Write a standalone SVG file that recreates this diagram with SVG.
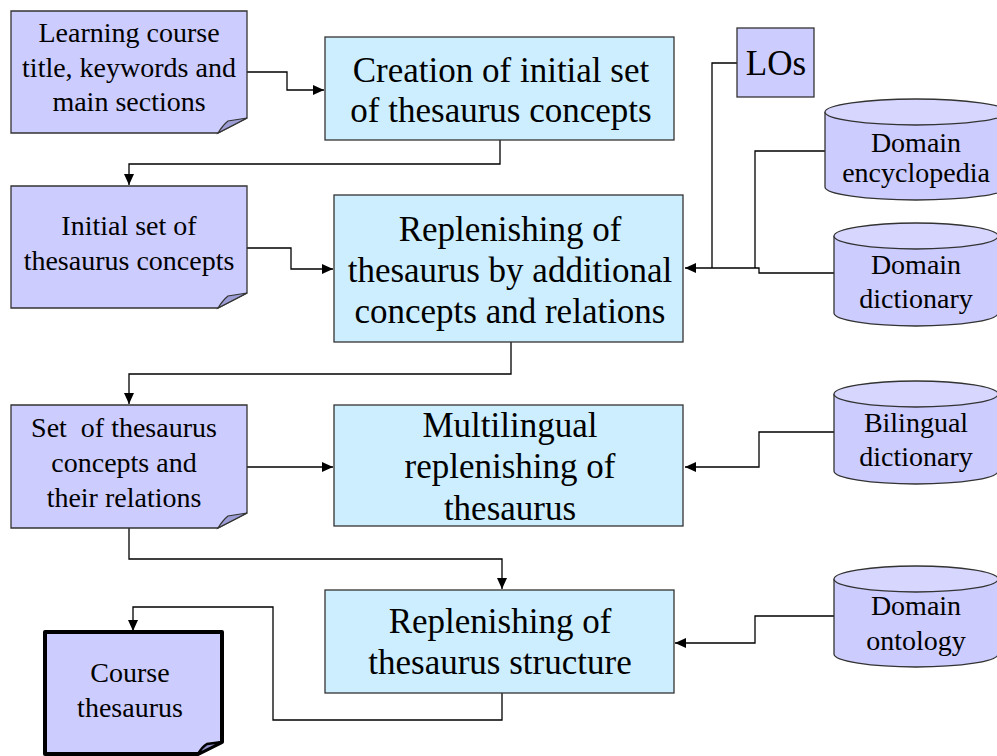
<svg xmlns="http://www.w3.org/2000/svg" width="997" height="756" viewBox="0 0 997 756">
<style>
.doc{fill:#ccccff;stroke:#333;stroke-width:1.3}
.fold{fill:#9d9dd6;stroke:#333;stroke-width:1.2}
.proc{fill:#cceeff;stroke:#333;stroke-width:1.3}
.cyl{fill:#ccccff;stroke:#333;stroke-width:1.3}
.cyltop{fill:#d6d6ff;stroke:#333;stroke-width:1.3}
.con{fill:none;stroke:#000;stroke-width:1.3}
text{font-family:"Liberation Serif","Times New Roman",serif;fill:#000;text-anchor:middle}
.t28{font-size:28px}
.t35{font-size:35px}
</style>
<defs>
<marker id="arr" markerUnits="userSpaceOnUse" markerWidth="12" markerHeight="10" refX="11" refY="5" orient="auto">
<path d="M0,0 L11,5 L0,10 z" fill="#000"/>
</marker>
</defs>
<rect width="997" height="756" fill="#fff"/>
<g id="connectors">
<path class="con" d="M247,72 H287 V90 H324" marker-end="url(#arr)"/>
<path class="con" d="M500,140 V164 H129 V185" marker-end="url(#arr)"/>
<path class="con" d="M247,248 H291 V269 H333" marker-end="url(#arr)"/>
<path class="con" d="M511,342 V374 H129 V404" marker-end="url(#arr)"/>
<path class="con" d="M247,467 H333" marker-end="url(#arr)"/>
<path class="con" d="M129,528 V559 H502 V589" marker-end="url(#arr)"/>
<path class="con" d="M502,693 V720 H273 V607 H133 V631" marker-end="url(#arr)"/>
<path class="con" d="M737,63 H712 V268"/>
<path class="con" d="M825,151 H755 V268"/>
<path class="con" d="M834,273 H759 V268 H685" marker-end="url(#arr)"/>
<path class="con" d="M834,432 H759 V467 H685" marker-end="url(#arr)"/>
<path class="con" d="M834,616 H755 V643 H675" marker-end="url(#arr)"/>
</g>
<g id="doc1">
<path class="doc" d="M11,11 H247 V118 L218,133 H11 Z"/>
<path class="fold" d="M218,133 L247,118 L228,121 Q223,125 218,133 Z"/>
<text class="t28" x="129" y="42">Learning course</text>
<text class="t28" x="129" y="77">title, keywords and</text>
<text class="t28" x="129" y="111">main sections</text>
</g>
<g id="proc1">
<rect class="proc" x="325" y="37" width="349" height="103"/>
<text class="t35" x="501" y="82">Creation of initial set</text>
<text class="t35" x="501" y="122">of thesaurus concepts</text>
</g>
<g id="doc2">
<path class="doc" d="M11,186 H247 V293 L218,308 H11 Z"/>
<path class="fold" d="M218,308 L247,293 L228,296 Q223,300 218,308 Z"/>
<text class="t28" x="129" y="235">Initial set of</text>
<text class="t28" x="129" y="270">thesaurus concepts</text>
</g>
<g id="proc2">
<rect class="proc" x="334" y="195" width="349" height="147"/>
<text class="t35" x="510" y="241">Replenishing of</text>
<text class="t35" x="510" y="282">thesaurus by additional</text>
<text class="t35" x="510" y="323">concepts and relations</text>
</g>
<g id="doc3">
<path class="doc" d="M11,405 H247 V513 L218,528 H11 Z"/>
<path class="fold" d="M218,528 L247,513 L228,516 Q223,520 218,528 Z"/>
<text class="t28" x="124" y="437" xml:space="preserve">Set  of thesaurus</text>
<text class="t28" x="124" y="472">concepts and</text>
<text class="t28" x="124" y="507">their relations</text>
</g>
<g id="proc3">
<rect class="proc" x="334" y="405" width="349" height="121"/>
<text class="t35" x="510" y="437">Multilingual</text>
<text class="t35" x="510" y="478">replenishing of</text>
<text class="t35" x="510" y="520">thesaurus</text>
</g>
<g id="proc4">
<rect class="proc" x="325" y="590" width="349" height="103"/>
<text class="t35" x="500" y="633">Replenishing of</text>
<text class="t35" x="500" y="674">thesaurus structure</text>
</g>
<g id="course">
<path d="M45,632 H222 V742 L198,754 H45 Z" fill="#ccccff" stroke="#000" stroke-width="4" stroke-linejoin="round"/>
<path d="M198,754 L222,742 L207,744 Q202,747 198,754 Z" fill="#8f8fc8" stroke="#000" stroke-width="2.5"/>
<text class="t28" x="130" y="682">Course</text>
<text class="t28" x="130" y="717">thesaurus</text>
</g>
<g id="los">
<rect class="doc" x="737" y="28" width="77" height="69"/>
<text class="t35" x="776" y="75">LOs</text>
</g>
<g id="encyclopedia">
<path class="cyl" d="M825,112 V187 A91,13 0 0 0 1007,187 V112"/>
<ellipse class="cyltop" cx="916" cy="112" rx="91" ry="13"/>
<text class="t28" x="916" y="152">Domain</text>
<text class="t28" x="916" y="182">encyclopedia</text>
</g>
<g id="dictionary">
<path class="cyl" d="M834,236 V313 A82,13 0 0 0 998,313 V236"/>
<ellipse class="cyltop" cx="916" cy="236" rx="82" ry="13"/>
<text class="t28" x="916" y="274">Domain</text>
<text class="t28" x="916" y="308">dictionary</text>
</g>
<g id="bilingual">
<path class="cyl" d="M834,394 V471 A82,13 0 0 0 998,471 V394"/>
<ellipse class="cyltop" cx="916" cy="394" rx="82" ry="13"/>
<text class="t28" x="916" y="432">Bilingual</text>
<text class="t28" x="916" y="466">dictionary</text>
</g>
<g id="ontology">
<path class="cyl" d="M834,579 V654 A82,13 0 0 0 998,654 V579"/>
<ellipse class="cyltop" cx="916" cy="579" rx="82" ry="13"/>
<text class="t28" x="916" y="615">Domain</text>
<text class="t28" x="916" y="650">ontology</text>
</g>
</svg>
